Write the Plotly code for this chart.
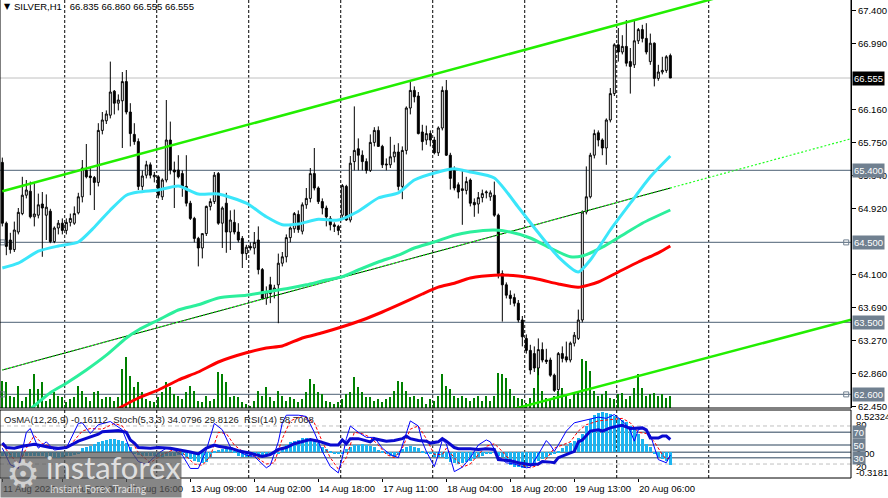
import plotly.graph_objects as go

# ---------------- data (SILVER, H1; bar index 0..167) ----------------
opens = [65.50, 64.74, 64.53, 64.41, 64.63, 64.86, 65.09, 65.14, 64.82, 64.84,
         64.98, 64.84, 64.89, 64.51, 64.68, 64.74, 64.65, 64.75, 64.74, 64.87,
         65.07, 65.40, 65.33, 65.31, 65.25, 65.90, 66.02, 66.09, 66.39, 66.24,
         66.27, 66.51, 66.13, 65.85, 65.76, 65.20, 65.34, 65.47, 65.32, 65.32,
         65.07, 65.28, 65.78, 65.405, 65.405, 65.36, 65.20, 64.99, 64.80, 64.55,
         64.43, 64.61, 64.95, 65.01, 65.36, 64.74, 64.99, 64.63, 64.75, 64.63,
         64.55, 64.36, 64.45, 64.43, 64.53, 64.16, 63.80, 63.97, 63.90, 63.97,
         64.24, 64.32, 64.56, 64.67, 64.85, 64.64, 64.97, 65.05, 65.36, 65.18,
         65.01, 64.93, 64.80, 64.72, 64.70, 64.84, 65.20, 64.78, 65.51, 65.67,
         65.59, 65.51, 65.40, 65.75, 65.90, 65.70, 65.48, 65.47, 65.57, 65.63,
         65.20, 65.65, 66.18, 66.40, 66.33, 65.88, 65.78, 65.86, 65.78, 65.62,
         65.93, 66.40, 65.59, 65.40, 65.22, 65.17, 65.15, 65.28, 65.00, 64.98,
         65.06, 65.12, 65.07, 65.09, 64.84, 64.11, 63.97, 63.84, 63.81, 63.74,
         63.53, 63.30, 63.15, 63.11, 62.93, 63.16, 63.03, 63.03, 62.84, 62.66,
         63.11, 63.07, 63.03, 63.24, 63.30, 63.53, 64.88, 65.07, 65.59, 65.87,
         65.78, 65.68, 66.03, 66.36, 66.97, 66.88, 66.95, 66.76, 66.72, 67.02,
         67.16, 67.05, 66.76, 66.99, 66.55, 66.63, 66.65, 66.835]
highs = [65.56, 64.76, 64.62, 64.76, 64.93, 65.32, 65.28, 65.26, 65.24, 65.11,
         65.13, 65.10, 64.92, 64.70, 64.78, 64.80, 64.80, 64.86, 64.95, 65.12,
         65.53, 65.73, 65.43, 65.33, 65.99, 66.13, 66.15, 66.76, 66.405, 66.35,
         66.63, 66.655, 66.24, 65.99, 65.80, 65.40, 65.52, 65.50, 65.38, 65.34,
         65.30, 66.28, 66.01, 65.51, 65.59, 65.40, 65.59, 65.02, 64.82, 64.57,
         64.61, 64.96, 65.05, 65.38, 65.38, 64.95, 65.12, 64.90, 64.91, 64.74,
         64.58, 64.47, 64.50, 64.63, 64.70, 64.18, 63.95, 64.07, 63.97, 64.36,
         64.38, 64.60, 64.70, 64.88, 64.90, 65.00, 65.18, 65.43, 65.68, 65.20,
         65.05, 64.96, 64.83, 64.75, 64.72, 65.23, 65.22, 65.58, 66.20, 65.80,
         65.65, 65.55, 65.85, 65.94, 65.95, 65.72, 65.55, 65.82, 65.72, 65.74,
         65.70, 66.20, 66.53, 66.45, 66.38, 65.97, 65.96, 65.90, 65.82, 65.95,
         66.45, 66.53, 65.62, 65.45, 65.25, 65.40, 65.32, 65.30, 65.05, 65.13,
         65.16, 65.15, 65.15, 65.26, 64.86, 64.15, 64.00, 63.90, 63.86, 63.78,
         63.58, 63.35, 63.22, 63.20, 63.30, 63.25, 63.17, 63.06, 62.86, 63.13,
         63.20, 63.26, 63.26, 63.38, 63.66, 64.90, 65.45, 65.62, 65.91, 65.90,
         65.80, 66.05, 66.43, 66.99, 67.18, 67.09, 67.28, 66.93, 67.28, 67.18,
         67.22, 67.24, 67.11, 67.00, 66.72, 66.82, 66.84, 66.860]
lows = [64.70, 64.34, 64.36, 64.38, 64.60, 64.84, 65.05, 64.80, 64.70, 64.80,
        64.32, 64.53, 64.49, 64.49, 64.60, 64.60, 64.60, 64.70, 64.72, 64.85,
        65.00, 65.30, 65.09, 64.905, 65.20, 65.85, 65.98, 66.05, 66.10, 66.15,
        65.68, 66.10, 65.70, 65.72, 65.155, 65.15, 65.30, 65.30, 65.25, 65.05,
        65.03, 65.25, 65.35, 64.93, 65.30, 65.07, 64.95, 64.78, 64.50, 64.20,
        64.30, 64.58, 64.90, 64.98, 64.72, 64.43, 64.37, 64.405, 64.60, 64.50,
        64.18, 64.28, 64.40, 64.35, 64.10, 63.78, 63.72, 63.74, 63.80, 63.49,
        64.20, 64.25, 64.50, 64.62, 64.62, 64.60, 64.92, 65.00, 65.15, 64.98,
        64.85, 64.70, 64.65, 64.63, 64.59, 64.80, 64.77, 64.75, 65.40, 65.40,
        65.40, 65.36, 65.38, 65.70, 65.70, 65.43, 65.40, 65.43, 65.50, 65.15,
        65.04, 65.60, 66.10, 66.25, 65.85, 65.65, 65.72, 65.70, 65.60, 65.58,
        65.90, 65.58, 65.16, 65.15, 65.05, 64.72, 65.10, 64.95, 64.82, 64.86,
        65.00, 65.05, 65.02, 64.82, 64.05, 63.51, 63.80, 63.72, 63.70, 63.50,
        63.20, 63.11, 62.85, 62.88, 62.84, 63.00, 62.98, 62.82, 62.63, 62.64,
        63.00, 63.00, 63.00, 63.20, 63.28, 63.50, 64.85, 65.05, 65.55, 65.70,
        65.59, 65.47, 66.00, 66.33, 66.76, 66.85, 66.70, 66.36, 66.68, 66.98,
        67.00, 66.85, 66.72, 66.45, 66.52, 66.60, 66.62, 66.555]
closes = [64.74, 64.45, 64.41, 64.655, 64.876, 65.09, 65.155, 64.82, 64.855, 64.97,
          64.93, 64.94, 64.51, 64.68, 64.74, 64.65, 64.75, 64.80, 64.86, 65.07,
          65.43, 65.32, 65.31, 65.25, 65.90, 66.03, 66.105, 66.38, 66.24, 66.28,
          66.51, 66.13, 65.86, 65.76, 65.20, 65.33, 65.47, 65.34, 65.34, 65.09,
          65.28, 65.78, 65.405, 65.38, 65.32, 65.20, 64.99, 64.80, 64.55, 64.43,
          64.61, 64.95, 65.01, 65.34, 64.74, 64.93, 64.63, 64.78, 64.63, 64.53,
          64.36, 64.44, 64.43, 64.50, 64.16, 63.80, 63.88, 63.86, 63.93, 64.24,
          64.32, 64.56, 64.68, 64.86, 64.66, 64.97, 65.05, 65.36, 65.18, 65.01,
          64.93, 64.82, 64.72, 64.70, 64.65, 65.21, 64.78, 65.49, 65.65, 65.59,
          65.51, 65.40, 65.75, 65.90, 65.70, 65.47, 65.47, 65.57, 65.63, 65.20,
          65.65, 66.18, 66.40, 66.32, 65.86, 65.76, 65.86, 65.78, 65.62, 65.93,
          66.40, 65.59, 65.30, 65.18, 65.13, 65.15, 65.26, 64.99, 64.97, 65.06,
          65.11, 65.13, 65.12, 64.84, 64.11, 63.97, 63.84, 63.80, 63.74, 63.53,
          63.32, 63.15, 62.905, 62.93, 63.16, 63.03, 63.01, 62.84, 62.65, 63.11,
          63.05, 63.03, 63.24, 63.34, 63.53, 64.88, 65.07, 65.59, 65.86, 65.78,
          65.68, 66.03, 66.36, 66.97, 66.88, 66.95, 66.74, 66.70, 67.02, 67.16,
          67.05, 66.88, 66.99, 66.55, 66.63, 66.65, 66.82, 66.555]
volume = [27, 26, 12, 11, 22, 7, 11, 19, 34, 19, 26, 7, 9, 16, 12, 11, 6, 9, 11, 22,
          17, 11, 7, 16, 17, 9, 11, 11, 7, 11, 39, 51, 32, 21, 26, 16, 9, 7, 6, 11,
          16, 26, 21, 14, 12, 9, 16, 22, 17, 7, 6, 12, 7, 9, 36, 34, 26,
          11, 12, 11, 6, 4, 2, 7, 17, 12, 21, 11, 7, 17, 12, 7, 11, 9, 6, 9, 16,
          29, 24, 16, 14, 7, 6, 4, 6, 9, 14, 16, 31, 21, 16, 11, 11, 7, 9, 6, 9,
          11, 17, 27, 26, 17, 11, 12, 9, 11, 4, 9, 7, 12, 34, 22,
          19, 12, 10, 12, 10, 7, 10, 12, 7, 12, 7, 12, 35, 34, 30, 19, 12, 10, 9, 5,
          10, 20, 40, 17, 10, 9, 12, 17, 20, 12, 9, 14, 17, 49, 47, 37, 17, 12, 14, 17,
          10, 9, 14, 15, 9, 12, 20, 34, 20, 12, 14, 15, 12, 14, 10, 12]

# moving averages read at sample bars (bar index, price)
ma_fast_idx = [0, 4, 9, 14, 19, 23, 27, 31, 34, 39, 44, 49, 54, 61, 66, 70, 74, 79, 84, 89,
               94, 99, 103, 109, 113, 117, 123, 129, 134, 139, 144, 147, 152, 157, 162, 167]
ma_fast_val = [64.18, 64.24, 64.39, 64.455, 64.505, 64.69, 64.905, 65.09, 65.13, 65.155,
               65.205, 65.105, 65.105, 64.99, 64.82, 64.72, 64.73, 64.79, 64.78, 64.89,
               65.055, 65.12, 65.28, 65.38, 65.42, 65.38, 65.305, 64.94, 64.62, 64.32,
               64.13, 64.28, 64.655, 64.99, 65.32, 65.58]
ma_mid_idx = [5, 12, 16, 21, 26, 31, 34, 39, 44, 49, 54, 61, 66, 71, 76, 81, 85, 89, 94, 99,
              103, 108, 113, 117, 123, 127, 132, 137, 142, 145, 150, 155, 160, 167]
ma_mid_val = [62.33, 62.62, 62.74, 62.905, 63.09, 63.305, 63.405, 63.53, 63.655, 63.72,
              63.805, 63.84, 63.88, 63.92, 63.97, 64.03, 64.07, 64.155, 64.255, 64.34,
              64.43, 64.505, 64.59, 64.63, 64.655, 64.63, 64.555, 64.43, 64.32, 64.33,
              64.44, 64.59, 64.74, 64.905]
ma_slow_idx = [27, 34, 39, 44, 49, 54, 61, 66, 70, 75, 80, 85, 90, 95, 100, 105, 109, 113,
               117, 123, 129, 134, 139, 144, 149, 154, 159, 164, 167]
ma_slow_val = [62.37, 62.555, 62.655, 62.78, 62.88, 63.005, 63.12, 63.18, 63.205, 63.305,
               63.37, 63.445, 63.53, 63.63, 63.74, 63.855, 63.94, 63.99, 64.055, 64.09,
               64.08, 64.04, 63.98, 63.94, 64.005, 64.13, 64.255, 64.37, 64.455]

# trend lines: two anchor points each (bar index, price); rays extend to the right edge
chan_upper_idx = [0, 167]
chan_upper_val = [65.14, 67.40]
chan_lower_idx = [125, 212]
chan_lower_val = [62.38, 63.53]
trend_mid_idx = [0, 167]
trend_mid_val = [62.905, 65.18]

# horizontal levels
bid_price = 66.555
levels = [65.40, 64.50, 63.50, 62.60]
price_ticks = [67.40, 66.99, 66.16, 65.75, 65.34, 64.92, 64.10, 63.69, 63.27, 62.86, 62.45]

# day separators (first bar of each session) and time labels
day_starts = [16, 39, 62, 85, 108, 131, 154, 177]
time_label_idx = [0, 15, 31, 47, 63, 79, 95, 111, 127, 143, 159]
time_labels = ["11 Aug 2026", "11 Aug 23:00", "12 Aug 16:00", "13 Aug 09:00", "14 Aug 02:00",
               "14 Aug 18:00", "17 Aug 11:00", "18 Aug 04:00", "18 Aug 20:00",
               "19 Aug 13:00", "20 Aug 06:00"]

# indicators
osma = ([-0.04, -0.05, -0.06, -0.06, -0.06, -0.05, -0.04, -0.04, -0.05, -0.05,
         -0.05, -0.06, -0.07, -0.07, -0.07, -0.06, -0.05, -0.04, -0.03, -0.01]
        + [0.054, 0.07, 0.082, 0.103, 0.124, 0.144, 0.157, 0.165, 0.165, 0.157, 0.144, 0.111, 0.062]
        + [-0.01, -0.03, -0.04, -0.05, -0.05, -0.05, -0.06, -0.06, -0.05, -0.05, -0.04, -0.03]
        + [-0.033, -0.062, -0.082, -0.103, -0.124, -0.136, -0.124, -0.062]
        + [0.02, 0.03, 0.04, 0.04, 0.035, 0.01]
        + [-0.041, -0.062, -0.062, -0.054, -0.041, -0.033, -0.033, -0.041, -0.033, -0.02, -0.01]
        + [0.041, 0.095, 0.124, 0.144, 0.157, 0.173, 0.177, 0.165, 0.144, 0.111, 0.07, 0.041, 0.02]
        + [-0.015, -0.02, -0.01]
        + [0.041, 0.07, 0.087, 0.095, 0.103, 0.095, 0.082, 0.062, 0.029, 0.012]
        + [-0.02, -0.041, -0.062, -0.029]
        + [0.041, 0.062, 0.082, 0.07, 0.054, 0.02]
        + [-0.01]
        + [-0.02, -0.054, -0.062, -0.062, -0.082]
        + [-0.124, -0.136, -0.144, -0.132, -0.124, -0.103, -0.082, -0.062, -0.041, -0.02, -0.012, -0.008]
        + [-0.041, -0.062, -0.111, -0.153, -0.177, -0.186, -0.194, -0.186, -0.169, -0.144,
           -0.111, -0.082, -0.054, -0.029, -0.012]
        + [0.021, 0.054, 0.082, 0.111, 0.144, 0.177, 0.227]
        + [0.33, 0.412, 0.46, 0.49, 0.50, 0.49, 0.47, 0.45, 0.43, 0.40, 0.37, 0.33, 0.289,
           0.227, 0.165, 0.103, 0.062]
        + [-0.02, -0.054, -0.082, -0.11, -0.16112])
stoch_idx = [0, 2, 4, 6, 7, 9, 11, 13, 16, 19, 20, 22, 24, 27, 30, 32, 34, 36, 39, 41, 43, 45,
             47, 49, 51, 53, 55, 57, 59, 61, 63, 65, 66, 67, 69, 70, 71, 74, 76, 78, 80, 82, 84,
             85, 86, 87, 89, 91, 93, 95, 97, 99, 101, 102, 104, 105, 106, 108, 109, 110, 111,
             112, 113, 115, 117, 119, 121, 122, 124, 126, 128, 131, 132, 134, 136, 137, 138,
             139, 141, 143, 145, 146, 149, 151, 153, 154, 156, 157, 158, 159, 160, 162, 163,
             164, 166, 167]
stoch_main = [45, 19, 13, 70, 76, 45, 55, 42, 45, 84, 85, 68, 82, 87, 74, 42, 24, 19, 37, 45,
              42, 34, 13, 13, 42, 84, 74, 47, 40, 34, 32, 21, 14, 18, 55, 85, 97, 97, 95, 70,
              40, 16, 6, 30, 60, 80, 70, 62, 62, 45, 35, 30, 70, 88, 80, 55, 40, 16, 35, 58,
              52, 30, 8, 15, 30, 50, 58, 55, 32, 22, 20, 14, 15, 35, 57, 50, 40, 50, 72, 85,
              88, 90, 94, 92, 98, 93, 82, 72, 56, 74, 77, 66, 45, 27, 22, 34.0796]
signal_idx = [0, 2, 4, 6, 8, 10, 12, 14, 17, 20, 22, 25, 28, 30, 32, 34, 37, 40, 43, 45, 48,
              50, 52, 54, 56, 58, 60, 63, 66, 68, 70, 72, 75, 78, 80, 82, 84, 86, 88, 90, 92,
              94, 96, 98, 100, 102, 104, 106, 108, 110, 111, 113, 115, 117, 119, 121, 123,
              125, 127, 130, 132, 134, 136, 138, 140, 142, 144, 146, 149, 152, 155, 157, 159,
              161, 163, 165, 166, 167]
stoch_signal = [50, 35, 18, 45, 65, 52, 48, 44, 50, 72, 76, 75, 84, 80, 60, 38, 22, 35, 43, 38,
                20, 18, 32, 70, 68, 50, 40, 33, 20, 22, 60, 88, 96, 85, 55, 30, 12, 30, 70, 68,
                62, 50, 35, 30, 45, 75, 80, 60, 35, 35, 45, 30, 15, 20, 35, 48, 52, 40, 25, 18,
                14, 18, 28, 45, 50, 55, 72, 82, 88, 90, 92, 85, 70, 68, 55, 35, 28, 29.8126]
rsi_idx = [0, 1, 3, 5, 8, 10, 12, 14, 16, 19, 21, 24, 25, 27, 29, 31, 32, 33, 34, 37, 39, 42,
           44, 47, 49, 51, 53, 54, 57, 59, 62, 65, 67, 69, 71, 73, 76, 77, 79, 81, 82, 84, 85,
           86, 87, 89, 92, 93, 95, 96, 98, 100, 101, 102, 104, 106, 107, 109, 110, 111, 113,
           114, 117, 119, 121, 123, 124, 127, 129, 132, 134, 135, 137, 138, 139, 141, 143,
           144, 145, 147, 149, 150, 152, 154, 155, 157, 159, 160, 161, 162, 164, 165, 166, 167]
rsi_val = [53, 46, 45, 48, 51, 48, 46, 45, 46, 56, 60, 67, 71, 72, 73, 70, 58, 53, 46, 45, 46,
           45, 43, 39, 36, 45, 50, 48, 45, 41, 37, 32, 35, 43, 46, 52, 57, 58.5, 56, 52, 50, 50,
           58, 52, 60, 60, 55, 60, 57, 56, 57, 60, 64, 60, 57, 56, 53, 55, 60, 56, 46, 44, 44,
           43, 44, 43, 27, 25, 22, 19, 20, 24, 23, 22, 30, 35, 40, 55, 58, 72, 74, 72, 77, 80,
           81, 76, 77, 77, 74, 61, 61, 64, 64, 58.7068]
stoch_levels_dashed = [80, 20]
stoch_levels_solid = [70, 50, 30]
osma_range = [-0.31812, 0.52324]

# ---------------- layout constants ----------------
W, H = 888, 498
ML, MR, MT, MB = 0, 37, 0, 20
PW, PH = W - ML - MR, H - MT - MB          # 851 x 478 plot area
MAIN_BOTTOM_PX = 408                        # px from top
IND_TOP_PX = 410
main_dom = [(PH - MAIN_BOTTOM_PX) / PH, 1.0]
ind_dom = [0.0, (PH - IND_TOP_PX) / PH]
X_RANGE = [-0.58, 212.17]
PRICE_RANGE = [62.43, 67.53]
OSC_RANGE = [-2.05, 105.2]
FONT = "Liberation Sans, Arial, sans-serif"
FS = 9.5


def pyp(px):
    """pixel from top of plot area -> paper y"""
    return (PH - px) / PH


def ray(ix, iv, x_end):
    slope = (iv[1] - iv[0]) / (ix[1] - ix[0])
    return [ix[0], x_end], [iv[0], iv[0] + slope * (x_end - ix[0])]


idx = list(range(len(closes)))
fig = go.Figure()

# volume (base axis of main pane)
fig.add_trace(go.Bar(x=idx, y=volume, width=0.28, marker=dict(color="#008000", line_width=0),
                     xaxis="x", yaxis="y"))

# trend lines
ux, uy = ray(chan_upper_idx, chan_upper_val, X_RANGE[1])
lx, ly = ray(chan_lower_idx, chan_lower_val, X_RANGE[1])
mx, my = ray(trend_mid_idx, trend_mid_val, X_RANGE[1])
fig.add_trace(go.Scatter(x=trend_mid_idx, y=trend_mid_val, mode="lines",
                         line=dict(color="#000000", width=1), yaxis="y3"))
fig.add_trace(go.Scatter(x=mx, y=my, mode="lines",
                         line=dict(color="#22ff22", width=1.2, dash="2px,2px"), yaxis="y3"))

# moving averages
fig.add_trace(go.Scatter(x=ma_slow_idx, y=ma_slow_val, mode="lines",
                         line=dict(color="#ff0000", width=3, shape="spline", smoothing=0.6),
                         yaxis="y3"))
fig.add_trace(go.Scatter(x=ma_mid_idx, y=ma_mid_val, mode="lines",
                         line=dict(color="#2cef9c", width=3, shape="spline", smoothing=0.6),
                         yaxis="y3"))
fig.add_trace(go.Scatter(x=ma_fast_idx, y=ma_fast_val, mode="lines",
                         line=dict(color="#3be6fa", width=3, shape="spline", smoothing=0.6),
                         yaxis="y3"))
fig.add_trace(go.Scatter(x=ux, y=uy, mode="lines", line=dict(color="#22ee00", width=2.5),
                         yaxis="y3"))
fig.add_trace(go.Scatter(x=lx, y=ly, mode="lines", line=dict(color="#22ee00", width=2.5),
                         yaxis="y3"))

# candles
fig.add_trace(go.Candlestick(
    x=idx, open=opens, high=highs, low=lows, close=closes, yaxis="y3",
    increasing=dict(line=dict(color="#000000", width=1), fillcolor="#ffffff"),
    decreasing=dict(line=dict(color="#000000", width=1), fillcolor="#000000"),
    whiskerwidth=0, hoverinfo="skip"))

# end squares of horizontal lines
fig.add_trace(go.Scatter(x=[X_RANGE[0] + 0.6, X_RANGE[1] - 1.2, X_RANGE[0] + 0.6, X_RANGE[1] - 1.2],
                         y=[levels[1], levels[1], levels[3], levels[3]], mode="markers",
                         marker=dict(symbol="square-open", size=5, color="#708090",
                                     line=dict(width=1)), yaxis="y3"))

# indicator pane: OsMA histogram (base), stoch + rsi (overlay)
fig.add_trace(go.Bar(x=idx, y=osma, width=0.6, marker=dict(color="#1cb4f0", line_width=0),
                     xaxis="x", yaxis="y2"))
fig.add_trace(go.Scatter(x=signal_idx, y=stoch_signal, mode="lines",
                         line=dict(color="#ff0000", width=1, dash="3px,2px"), yaxis="y4"))
fig.add_trace(go.Scatter(x=stoch_idx, y=stoch_main, mode="lines",
                         line=dict(color="#0000ff", width=1), yaxis="y4"))
fig.add_trace(go.Scatter(x=rsi_idx, y=rsi_val, mode="lines",
                         line=dict(color="#0a0ad0", width=3), yaxis="y4"))

shapes = []
# day separators
for d in day_starts:
    for dom in (main_dom, ind_dom):
        shapes.append(dict(type="line", xref="x", yref="paper", x0=d - 0.4, x1=d - 0.4,
                           y0=dom[0], y1=dom[1], layer="below",
                           line=dict(color="#000000", width=1, dash="3px,2px")))
# bid line and level lines
shapes.append(dict(type="line", xref="paper", yref="y3", x0=0, x1=1, y0=bid_price, y1=bid_price,
                   layer="below", line=dict(color="#c0c0c0", width=1)))
for lv in levels:
    shapes.append(dict(type="line", xref="paper", yref="y3", x0=0, x1=1, y0=lv, y1=lv,
                       layer="below", line=dict(color="#708090", width=1.4)))
# oscillator levels
for lv in stoch_levels_dashed:
    shapes.append(dict(type="line", xref="paper", yref="y4", x0=0, x1=1, y0=lv, y1=lv,
                       layer="below", line=dict(color="#c0c0c0", width=1, dash="4px,3px")))
for lv in stoch_levels_solid:
    shapes.append(dict(type="line", xref="paper", yref="y4", x0=0, x1=1, y0=lv, y1=lv,
                       layer="below", line=dict(color="#708090", width=1.4)))
shapes.append(dict(type="line", xref="paper", yref="y2", x0=0, x1=1, y0=0, y1=0,
                   layer="below", line=dict(color="#708090", width=1.4)))
# pane frames
shapes.append(dict(type="rect", xref="paper", yref="paper", x0=0, x1=1, y0=main_dom[0], y1=1.02,
                   line=dict(color="#000000", width=1)))
shapes.append(dict(type="rect", xref="paper", yref="paper", x0=0, x1=1, y0=ind_dom[0], y1=ind_dom[1],
                   line=dict(color="#000000", width=1)))

ann = []
txt = dict(family=FONT, size=FS, color="#000000")
# chart title
ann.append(dict(xref="paper", yref="paper", x=2 / PW, y=pyp(7), xanchor="left", yanchor="middle",
                text="▼", showarrow=False, font=dict(family="DejaVu Sans", size=8, color="#000000")))
ann.append(dict(xref="paper", yref="paper", x=12 / PW, y=pyp(7), xanchor="left", yanchor="middle",
                text="SILVER,H1   %.3f %.3f %.3f %.3f" % (opens[-1], highs[-1], lows[-1], closes[-1]),
                showarrow=False, font=txt))
# indicator title
ann.append(dict(xref="paper", yref="paper", x=2 / PW, y=pyp(419.5), xanchor="left", yanchor="middle",
                text="OsMA(12,26,9) %.5f  Stoch(5,3,3) %.4f %.4f  RSI(14) %.4f"
                     % (osma[-1], stoch_main[-1], stoch_signal[-1], rsi_val[-1]),
                showarrow=False, font=dict(family=FONT, size=FS, color="#202020")))
# time labels
for i, t in zip(time_label_idx, time_labels):
    ann.append(dict(xref="x", yref="paper", x=i - 0.3, y=pyp(488), xanchor="left", yanchor="middle",
                    text=t, showarrow=False, font=txt))
# price boxes
ann.append(dict(xref="paper", yref="y3", x=1, y=bid_price, xanchor="left", yanchor="middle",
                xshift=1, text="%.3f" % bid_price, showarrow=False, bgcolor="#000000",
                borderpad=1, font=dict(family=FONT, size=FS, color="#ffffff")))
for lv in levels:
    ann.append(dict(xref="paper", yref="y3", x=1, y=lv, xanchor="left", yanchor="middle",
                    xshift=1, text="%.3f" % lv, showarrow=False, bgcolor="#708090",
                    borderpad=1, font=dict(family=FONT, size=FS, color="#ffffff")))
# oscillator labels
for lv, py_ in ((osma_range[1], 416), (80, 424), (0.0, 453), (20, 466.5), (osma_range[0], 472.5)):
    s = ("%.5f" % lv) if abs(lv) > 0.1 and lv < 1 else ("%.2f" % lv if lv == 0 else "%d" % lv)
    ann.append(dict(xref="paper", yref="paper", x=1, y=pyp(py_), xanchor="left", yanchor="middle",
                    xshift=3, text=s, showarrow=False, font=txt))
for lv in stoch_levels_solid:
    ann.append(dict(xref="paper", yref="y4", x=1, y=lv, xanchor="left", yanchor="middle",
                    xshift=1, text="%d" % lv, showarrow=False, bgcolor="#708090",
                    borderpad=0.5, font=dict(family=FONT, size=FS, color="#ffffff")))
# watermark logo (drawn last, above labels)
ann.append(dict(xref="paper", yref="paper", x=0, y=pyp(498), xanchor="left", yanchor="bottom",
                text=" ", width=180, height=45, showarrow=False, borderpad=0,
                bgcolor="rgba(88,88,88,0.72)"))
ann.append(dict(xref="paper", yref="paper", x=23 / PW, y=pyp(474), xanchor="center", yanchor="middle",
                text="⚙", showarrow=False,
                font=dict(family="DejaVu Sans", size=38, color="rgba(235,235,235,0.75)")))
ann.append(dict(xref="paper", yref="paper", x=44 / PW, y=pyp(467), xanchor="left", yanchor="middle",
                text="instaforex", showarrow=False,
                font=dict(family="Lato", size=31, color="rgba(240,240,240,0.85)")))
ann.append(dict(xref="paper", yref="paper", x=48 / PW, y=pyp(489), xanchor="left", yanchor="middle",
                text="Instant Forex Trading", showarrow=False,
                font=dict(family="Lato", size=10.5, color="rgba(240,240,240,0.85)")))

fig.update_layout(
    width=W, height=H, margin=dict(l=ML, r=MR, t=MT, b=MB, pad=0),
    paper_bgcolor="#ffffff", plot_bgcolor="#ffffff", showlegend=False, hovermode=False,
    bargap=0, font=txt, shapes=shapes, annotations=ann,
    xaxis=dict(domain=[0, 1], range=X_RANGE, anchor="y2", showgrid=False, zeroline=False,
               showticklabels=False, ticks="outside", ticklen=3, tickcolor="#000000",
               tickvals=time_label_idx, showline=False, rangeslider=dict(visible=False),
               fixedrange=True),
    yaxis=dict(domain=main_dom, range=[0, MAIN_BOTTOM_PX], visible=False, fixedrange=True),
    yaxis3=dict(overlaying="y", side="right", range=PRICE_RANGE, tickvals=price_ticks,
                ticktext=["%.3f" % t for t in price_ticks], ticks="outside", ticklen=4,
                tickcolor="#000000", showline=True, linecolor="#000000", linewidth=1,
                showgrid=False, zeroline=False, tickfont=txt, anchor="x", fixedrange=True),
    yaxis2=dict(domain=ind_dom, range=osma_range, visible=False, fixedrange=True),
    yaxis4=dict(overlaying="y2", range=OSC_RANGE, visible=False, fixedrange=True),
)

fig.write_html("out.html", config={"displayModeBar": False},
               post_script="document.body.style.margin='0';document.body.style.overflow='hidden';")
